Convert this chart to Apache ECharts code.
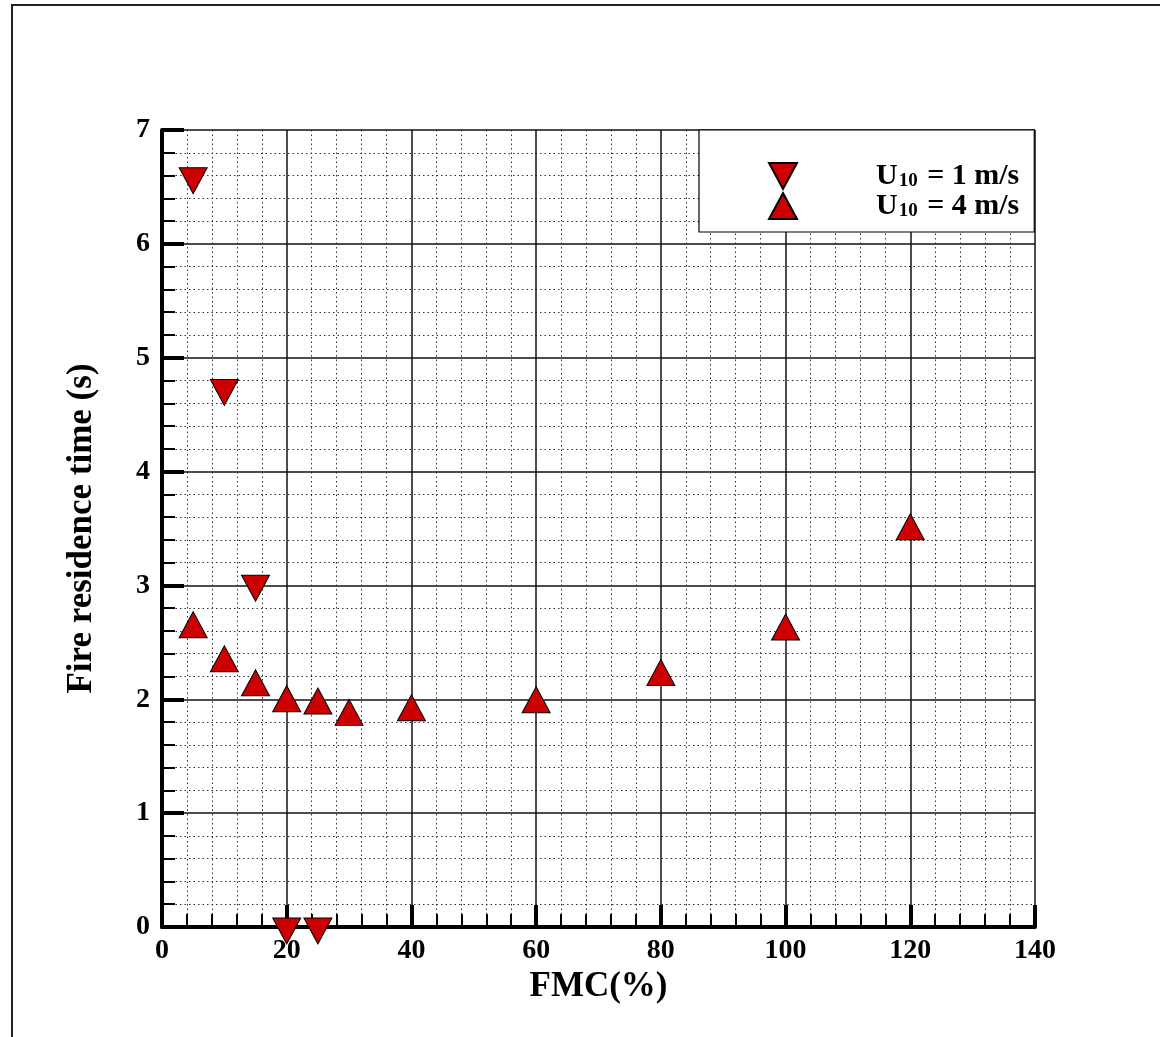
<!DOCTYPE html>
<html>
<head>
<meta charset="utf-8">
<script src="https://cdn.jsdelivr.net/npm/echarts@6/dist/echarts.min.js"></script>
<style>
html,body{margin:0;padding:0;background:#fff;}
#chart{width:1160px;height:1037px;}
</style>
</head>
<body>
<div id="chart"></div>
<script>
// Data
const fmc1 = [5, 10, 15, 20, 25];
const time1 = [6.59, 4.73, 3.01, 0.0, 0.0];
const fmc4 = [5, 10, 15, 20, 25, 30, 40, 60, 80, 100, 120];
const time4 = [2.62, 2.32, 2.11, 1.97, 1.95, 1.85, 1.89, 1.96, 2.20, 2.60, 3.48];
const seriesNames = ['U10 = 1 m/s', 'U10 = 4 m/s'];
const xTitle = 'FMC(%)';
const yTitle = 'Fire residence time (s)';

const FONT = '"Liberation Serif", "Times New Roman", serif';
const RED = '#cc0000';
const DOWN = 'path://M0,0 L28,0 L14,26 Z';
const UP = 'path://M14,0 L28,26 L0,26 Z';

const chart = echarts.init(document.getElementById('chart'), null, {renderer: 'canvas'});

function axisCommon() {
  return {
    axisLine: {show: true, onZero: false, lineStyle: {color: '#000', width: 4}},
    axisTick: {show: true, inside: true, length: 22, lineStyle: {color: '#000', width: 4}},
    minorTick: {show: true, splitNumber: 5, length: 13, lineStyle: {color: '#000', width: 2}},
    splitLine: {show: true, lineStyle: {color: '#111', width: 1.5}},
    minorSplitLine: {show: true, lineStyle: {color: '#333', width: 1, type: [1.5, 3]}}
  };
}

const option = {
  backgroundColor: '#fff',
  animation: false,
  graphic: [{
    type: 'rect', silent: true, z: -10,
    shape: {x: 12, y: 5, width: 1200, height: 1100},
    style: {fill: 'none', stroke: '#222', lineWidth: 2}
  }],
  grid: {left: 162, top: 130, right: 125, bottom: 110, show: false},
  legend: {
    orient: 'vertical',
    left: 699, top: 130,
    backgroundColor: '#fff',
    borderColor: '#000', borderWidth: 1.2,
    padding: [31, 15, 11, 69],
    itemWidth: 28, itemHeight: 28, itemGap: 0,
    data: [
      {name: seriesNames[0], icon: DOWN},
      {name: seriesNames[1], icon: UP}
    ],
    formatter: function (name) {
      const rest = name.replace('U10', '');
      return '{g|}{b|U}{s|10}{b|' + rest + '}';
    },
    textStyle: {
      rich: {
        g: {width: 74, height: 30},
        b: {fontFamily: FONT, fontWeight: 'bold', fontSize: 30, color: '#000', lineHeight: 30},
        s: {fontFamily: FONT, fontWeight: 'bold', fontSize: 19, color: '#000', lineHeight: 6, verticalAlign: 'bottom', padding: [0, 2, 0, 1]}
      }
    }
  },
  xAxis: Object.assign(axisCommon(), {
    type: 'value', min: 0, max: 140, interval: 20,
    name: xTitle, nameLocation: 'middle', nameGap: 40,
    nameTextStyle: {color: '#000', fontFamily: FONT, fontWeight: 'bold', fontSize: 35},
    axisLabel: {color: '#000', fontFamily: FONT, fontWeight: 'bold', fontSize: 28, margin: 10}
  }),
  yAxis: Object.assign(axisCommon(), {
    type: 'value', min: 0, max: 7, interval: 1,
    name: yTitle, nameLocation: 'middle', nameGap: 63, nameRotate: 90,
    nameTextStyle: {color: '#000', fontFamily: FONT, fontWeight: 'bold', fontSize: 35},
    axisLabel: {color: '#000', fontFamily: FONT, fontWeight: 'bold', fontSize: 28, margin: 12}
  }),
  series: [
    {
      name: seriesNames[0], type: 'scatter', z: 5,
      data: fmc1.map((x, i) => [x, time1[i]]),
      symbol: DOWN, symbolSize: [28, 26], symbolOffset: [0, 4],
      itemStyle: {color: RED, borderColor: '#000', borderWidth: 1, opacity: 1}
    },
    {
      name: seriesNames[1], type: 'scatter', z: 5,
      data: fmc4.map((x, i) => [x, time4[i]]),
      symbol: UP, symbolSize: [28, 26], symbolOffset: [0, -4],
      itemStyle: {color: RED, borderColor: '#000', borderWidth: 1, opacity: 1}
    }
  ]
};
chart.setOption(option);
</script>
</body>
</html>
